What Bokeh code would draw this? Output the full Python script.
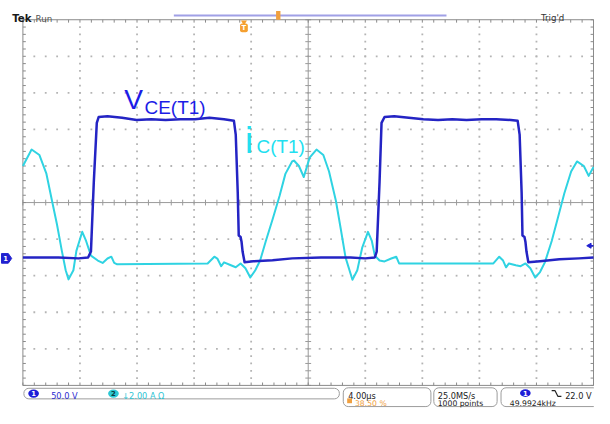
import numpy as np
from bokeh.plotting import figure
from bokeh.models import Range1d
from bokeh.core.properties import value
from bokeh.embed import file_html
from bokeh.resources import INLINE

# Channel 1: V_CE(T1) in volts, time in microseconds
vce_time_us = [0.0, 2.5, 3.9, 4.57, 4.77, 4.97, 5.18, 5.31, 5.93, 6.95, 7.97, 9.0, 10.0,
               11.04, 12.06, 13.08, 14.1, 14.79, 14.92, 15.06, 15.13, 15.26, 15.33, 15.4,
               15.54, 16.15, 17.5, 18.88, 20.9, 22.96, 24.0, 24.67, 24.8, 25.0, 25.14,
               25.35, 26.03, 27.05, 28.07, 29.1, 30.1, 31.1, 32.16, 33.18, 34.2, 34.68,
               34.82, 34.96, 35.02, 35.16, 35.23, 35.3, 35.43, 36.25, 37.61, 38.98, 40.0]
vce_volts = [0, 0, -1.3, 0, 8, 103, 184, 192, 193, 191, 188, 189, 188,
             189, 189, 191, 189, 187, 168, 89, 30, 28, 21, 8,
             -6.6, -5.3, -4, -1.3, 0, 0, -1.3, 0, 8, 103, 184,
             192, 193, 191, 189, 188, 189, 188, 189, 189, 188, 187,
             168, 89, 30, 28, 21, 8, -6.6, -5.3, -2.6, -1.3, 0]

# Channel 2: i_C(T1) in amperes
ic_time_us = [0.0, 0.61, 1.16, 1.64, 2.04, 2.39, 2.73, 3.0, 3.2, 3.54, 3.75, 4.16, 4.43,
              4.77, 5.25, 5.59, 5.93, 6.2, 6.4, 6.61, 12.95, 13.42, 13.63, 13.9, 14.1,
              14.58, 14.92, 15.26, 15.6, 15.94, 16.29, 16.63, 17.03, 17.51, 17.99, 18.4,
              18.87, 19.0, 19.35, 19.69, 20.1, 20.58, 21.06, 21.46, 21.94, 22.28, 22.62,
              23.1, 23.44, 23.78, 24.19, 24.46, 24.67, 25.0, 25.35, 25.82, 26.17, 26.37,
              32.98, 33.39, 33.66, 33.87, 34.07, 34.55, 34.89, 35.23, 35.57, 35.91, 36.25,
              36.59, 37.07, 37.48, 37.95, 38.43, 38.84, 39.32, 39.66, 40.0]
ic_amps = [5.3, 6.2, 5.9, 4.9, 3.4, 2.1, 0.66, -0.4, -0.9, -0.4, 0.66, 1.7, 1.2,
           0.4, 0.13, 0.0, 0.24, 0.34, 0.0, -0.08, -0.03, 0.34, 0.24, -0.18, 0.03,
           -0.13, -0.24, -0.03, -0.29, -0.8, -0.4, 0.13, 1.2, 2.4, 3.66, 4.87,
           5.55, 5.6, 5.3, 4.7, 5.76, 6.2, 5.9, 5.0, 3.4, 1.87, 0.29,
           -0.92, -0.4, 0.82, 1.7, 1.2, 0.4, 0.13, 0.08, 0.24, 0.34, -0.03,
           -0.03, 0.34, 0.13, -0.24, -0.03, -0.13, -0.18, -0.03, -0.29, -0.8, -0.5,
           0.03, 1.2, 2.4, 3.8, 5.0, 5.55, 5.3, 4.76, 5.24]

# scope settings / status texts
US_PER_DIV = 4.0
V_PER_DIV = 50.0
A_PER_DIV = 2.0
CH1_POS_DIV = -1.5
CH2_POS_DIV = -1.65
TRIG_MARK_V = 16.0
status_top_left = ["Tek", "Run"]
status_top_right = "Trig'd"
ch1_label = "50.0 V"
ch2_label = "\u21932.00 A \u03a9"
timebase_label = "4.00\u00b5s"
trig_pos_label = "38.50 %"
rate_label = "25.0MS/s"
points_label = "1000 points"
trig_level_label = "22.0 V"
freq_label = "49.9924kHz"
vce_name = ["V", "CE(T1)"]
ic_name = ["i", "C(T1)"]

# ---------------- layout (reference pixel grid) ----------------
W, H = 594, 408
RW, RH = 610, 424
S = (W / RW + H / RH) / 2
GL, GR, GT, GB = 23.0, 609.0, 20.0, 400.0
PXX = (GR - GL) / 10.0
PXY = (GB - GT) / 10.0
V_CENTER = -CH1_POS_DIV * V_PER_DIV
A_CENTER = -CH2_POS_DIV * A_PER_DIV


def tx(X):
    return (X - GL) / PXX * US_PER_DIV


def vy(Y):
    return V_CENTER + ((GT + GB) / 2 - Y) / PXY * V_PER_DIV


def fs(px):
    return f"{px * S:.1f}px"


V_BOT, V_TOP = V_CENTER - 5 * V_PER_DIV, V_CENTER + 5 * V_PER_DIV
T0, T1 = 0.0, 10 * US_PER_DIV
TC = 5 * US_PER_DIV

p = figure(width=W, height=H, output_backend="svg", toolbar_location=None,
           x_range=Range1d(tx(0), tx(RW)), y_range=Range1d(vy(RH), vy(0)),
           x_axis_type=None, y_axis_type=None, min_border=0,
           outline_line_color=None, background_fill_color="white",
           border_fill_color="white")
a_lo = A_CENTER + (vy(RH) - V_CENTER) / V_PER_DIV * A_PER_DIV
a_hi = A_CENTER + (vy(0) - V_CENTER) / V_PER_DIV * A_PER_DIV
p.extra_y_ranges = {"amps": Range1d(a_lo, a_hi)}

# ---------------- graticule ----------------
dot_x, dot_y = [], []
minor_v = np.arange(V_BOT, V_TOP + 0.01, V_PER_DIV / 5)
minor_t = np.arange(T0, T1 + 0.001, US_PER_DIV / 5)
for k in range(1, 10):
    if k == 5:
        continue
    t = k * US_PER_DIV
    for v in minor_v[1:-1]:
        dot_x.append(t); dot_y.append(v)
    vv = V_BOT + k * V_PER_DIV
    for t2 in minor_t[1:-1]:
        dot_x.append(t2); dot_y.append(vv)
p.scatter(dot_x, dot_y, marker="square", size=1.8, fill_color="#b4b4b4",
          line_color=None)

dt = 3.0 / PXX * US_PER_DIV
dv = 3.0 / PXY * V_PER_DIV
grid_col = "#9a9a9a"
# centre cross
p.segment(x0=[TC, T0], y0=[V_BOT, V_CENTER], x1=[TC, T1], y1=[V_TOP, V_CENTER],
          line_color=grid_col, line_width=1)
p.segment(x0=[TC - dt] * len(minor_v), y0=list(minor_v), x1=[TC + dt] * len(minor_v),
          y1=list(minor_v), line_color=grid_col, line_width=1)
p.segment(x0=list(minor_t), y0=[V_CENTER - dv] * len(minor_t), x1=list(minor_t),
          y1=[V_CENTER + dv] * len(minor_t), line_color=grid_col, line_width=1)
# border + inward ticks
p.quad(left=[T0], right=[T1], bottom=[V_BOT], top=[V_TOP], fill_color=None,
       line_color="#8a8a8a", line_width=1)
p.segment(x0=list(minor_t), y0=[V_TOP] * len(minor_t), x1=list(minor_t),
          y1=[V_TOP - dv] * len(minor_t), line_color="#8a8a8a")
p.segment(x0=list(minor_t), y0=[V_BOT] * len(minor_t), x1=list(minor_t),
          y1=[V_BOT + dv] * len(minor_t), line_color="#8a8a8a")
p.segment(x0=[T0] * len(minor_v), y0=list(minor_v), x1=[T0 + dt] * len(minor_v),
          y1=list(minor_v), line_color="#8a8a8a")
p.segment(x0=[T1] * len(minor_v), y0=list(minor_v), x1=[T1 - dt] * len(minor_v),
          y1=list(minor_v), line_color="#8a8a8a")

# ---------------- traces ----------------
p.line(ic_time_us, ic_amps, y_range_name="amps", line_color="#2fd3e2",
       line_width=2, line_join="round")
p.line(vce_time_us, vce_volts, line_color="#2424c4", line_width=2.5,
       line_join="round")


def put_text(X, Y, s, size, color, font="DejaVu Sans", style="normal",
             align="left", baseline="alphabetic"):
    p.text(x=[tx(X)], y=[vy(Y)], text=[s], text_font=value(font),
           text_font_size=fs(size), text_color=color, text_font_style=style,
           text_align=align, text_baseline=baseline)


# trace names
put_text(127, 103, vce_name[0], 29, "#1c1ce6", font="Liberation Sans")
put_text(148, 111, vce_name[1], 19.5, "#1c1ce6", font="Liberation Sans")
put_text(251, 145, ic_name[0], 38, "#22dff0", font="Liberation Sans")
put_text(263, 152, ic_name[1], 19.5, "#22dff0", font="Liberation Sans")

# ground marker ch1 (left) and trigger level marker (right)
gx = [tx(X) for X in (1, 8, 11.5, 8, 1)]
gy = [vy(Y) for Y in (263, 263, 268, 273, 273)]
p.patch(gx, gy, fill_color="#2020d0", line_color="#2020d0")
put_text(5.2, 268, "1", 7, "white", style="bold", align="center", baseline="middle")
p.scatter([tx(605)], [TRIG_MARK_V], marker="triangle", angle=np.pi / 2, size=5,
          fill_color="#2020d0", line_color="#2020d0")
p.segment(x0=[tx(605)], y0=[TRIG_MARK_V], x1=[tx(609)], y1=[TRIG_MARK_V],
          line_color="#2020d0", line_width=1.5)

# ---------------- top status line ----------------
put_text(12, 19, status_top_left[0], 10.5, "#1a1a1a", style="bold")
put_text(36, 19, status_top_left[1], 9, "#555555")
put_text(555, 18, status_top_right, 9, "#333333")
p.segment(x0=[tx(178)], y0=[vy(15.5)], x1=[tx(458)], y1=[vy(15.5)],
          line_color="#a0a0e6", line_width=2)
p.quad(left=[tx(283)], right=[tx(287.5)], top=[vy(11)], bottom=[vy(20)],
       fill_color="#f0a040", line_color=None)
p.quad(left=[tx(246)], right=[tx(254)], top=[vy(24)], bottom=[vy(33)],
       fill_color="#f5a030", line_color=None, border_radius=2)
p.scatter([tx(250)], [vy(22.5)], marker="inverted_triangle", size=6,
          fill_color="#f5a030", line_color=None)
put_text(250, 29, "T", 7, "white", style="bold", align="center", baseline="middle")

# ---------------- bottom status boxes ----------------
box_col = "#9c9c9c"
p.quad(left=[tx(24)], right=[tx(348)], top=[vy(403)], bottom=[vy(414)],
       fill_color="white", line_color=box_col, border_radius=5)
p.quad(left=[tx(X) for X in (352, 445, 514)], right=[tx(X) for X in (442, 510, 614)],
       top=[vy(402.5)] * 3, bottom=[vy(422)] * 3, fill_color="white",
       line_color=box_col, border_radius=5)

p.ellipse([tx(34)], [vy(408.5)], width=tx(45) - tx(34), height=vy(404.5) - vy(413),
          fill_color="#1e1ed8", line_color=None)
put_text(34, 408.8, "1", 7, "white", style="bold", align="center", baseline="middle")
put_text(52, 411.5, ch1_label, 8.5, "#2b2bd0")
p.ellipse([tx(116)], [vy(408.5)], width=tx(45) - tx(34), height=vy(404.5) - vy(413),
          fill_color="#2cc8d4", line_color=None)
put_text(116, 408.8, "2", 7, "#0a3a40", style="bold", align="center", baseline="middle")
put_text(125, 411.5, ch2_label, 8.5, "#2cc4d4")

put_text(357, 411, timebase_label, 8.5, "#222222")
p.quad(left=[tx(356)], right=[tx(361)], top=[vy(413.5)], bottom=[vy(418.5)],
       fill_color="#f0a040", line_color=None)
put_text(364, 419, trig_pos_label, 8, "#f0a040")
put_text(449, 411, rate_label, 8.5, "#222222")
put_text(449, 419, points_label, 8, "#222222")

p.ellipse([tx(539)], [vy(408)], width=tx(45) - tx(34), height=vy(404.5) - vy(412.5),
          fill_color="#1e1ed8", line_color=None)
put_text(539, 408.3, "1", 7, "white", style="bold", align="center", baseline="middle")
p.line([tx(X) for X in (566, 569.5, 572.5, 576)], [vy(Y) for Y in (405.5, 405.5, 411.5, 411.5)],
       line_color="#222222", line_width=1.2)
put_text(607, 411, trig_level_label, 8.5, "#222222", align="right")
put_text(523, 419, freq_label, 8, "#222222")

open("out.html", "w").write(file_html(p, INLINE))
